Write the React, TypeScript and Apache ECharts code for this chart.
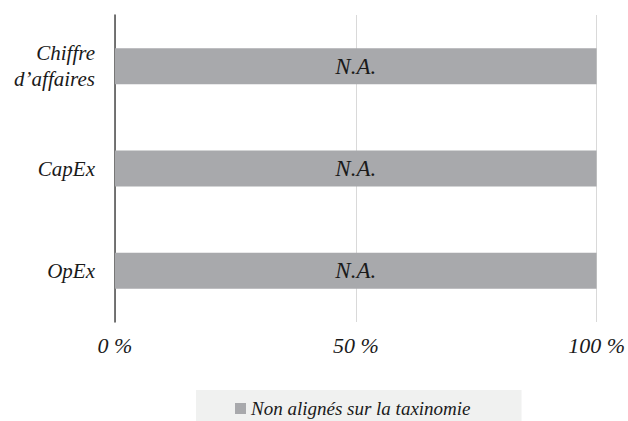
import React, { useEffect, useRef } from "react";
import * as echarts from "echarts";

const categories = ["OpEx", "CapEx", "Chiffre\nd’affaires"];
const nonAlignedValues = [100, 100, 100];
const barLabels = ["N.A.", "N.A.", "N.A."];
const seriesName = "Non alignés sur la taxinomie";
const xTicks = { min: 0, max: 100, interval: 50 };

const FONT = "Liberation Serif";

export default function App() {
  const ref = useRef<HTMLDivElement>(null);

  useEffect(() => {
    document.body.style.margin = "0";
    const chart = echarts.init(ref.current!, null, { renderer: "svg" });
    chart.setOption({
      animation: false,
      textStyle: { fontFamily: FONT },
      grid: { left: 115, right: 25, top: 15, bottom: 99, containLabel: false },
      legend: {
        data: [seriesName],
        left: 196,
        top: 390,
        backgroundColor: "#f0f1f0",
        padding: [9, 51, 12, 39],
        itemWidth: 11,
        itemHeight: 11,
        icon: "rect",
        textStyle: {
          fontFamily: FONT,
          fontStyle: "italic",
          fontSize: 19,
          color: "#1a1a1a",
        },
      },
      xAxis: {
        type: "value",
        min: xTicks.min,
        max: xTicks.max,
        interval: xTicks.interval,
        axisLine: { show: false },
        axisTick: { show: false },
        splitLine: { show: true, lineStyle: { color: "#d9d9d9", width: 1 } },
        axisLabel: {
          formatter: "{value} %",
          margin: 12,
          fontFamily: FONT,
          fontStyle: "italic",
          fontSize: 22,
          color: "#1a1a1a",
        },
      },
      yAxis: {
        type: "category",
        data: categories,
        axisLine: { show: true, lineStyle: { color: "#4a4a4a", width: 1.5 } },
        axisTick: { show: false },
        splitLine: { show: false },
        axisLabel: {
          margin: 20,
          fontFamily: FONT,
          fontStyle: "italic",
          fontSize: 21,
          lineHeight: 26,
          color: "#1a1a1a",
          align: "right",
        },
      },
      series: [
        {
          name: seriesName,
          type: "bar",
          data: nonAlignedValues,
          barWidth: 36,
          itemStyle: { color: "#a8a9ac" },
          label: {
            show: true,
            position: "inside",
            formatter: (p: any) => barLabels[p.dataIndex],
            fontFamily: FONT,
            fontStyle: "italic",
            fontSize: 23,
            color: "#1a1a1a",
          },
        },
      ],
    });
    return () => chart.dispose();
  }, []);

  return <div ref={ref} style={{ width: 628, height: 421 }} />;
}
